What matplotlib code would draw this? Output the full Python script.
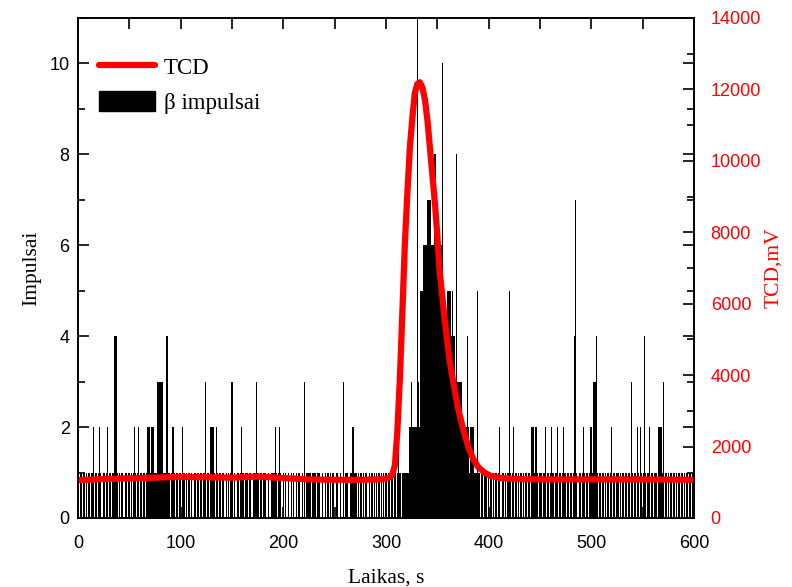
import numpy as np
import matplotlib
matplotlib.use("Agg")
import matplotlib.pyplot as plt
from matplotlib.lines import Line2D
from matplotlib.patches import Patch

# beta counts per second, t = 0..599 (rows of 30 s)
counts = [
    1, 0, 1, 1, 0, 1, 1, 0, 1, 0, 1, 1, 0, 1, 1, 2, 0, 1, 1, 0, 1, 2, 1, 0, 0, 1, 1, 0, 1, 2,
    0, 1, 1, 0, 1, 1, 4, 4, 1, 0, 1, 0, 1, 1, 0, 0, 1, 1, 0, 1, 1, 0, 1, 0, 1, 2, 1, 0, 1, 2,
    0, 1, 1, 0, 1, 1, 0, 1, 2, 2, 2, 1, 2, 2, 2, 1, 1, 3, 3, 3, 3, 3, 3, 1, 1, 1, 4, 4, 1, 1,
    0, 1, 2, 2, 1, 0, 1, 1, 0, 1, 1, 0, 2, 1, 1, 0, 1, 0, 1, 1, 0, 1, 0, 1, 1, 0, 1, 1, 0, 1,
    1, 0, 1, 1, 3, 0, 1, 1, 0, 2, 2, 2, 2, 1, 0, 2, 1, 0, 1, 1, 0, 1, 1, 0, 0, 1, 0, 1, 0, 1,
    3, 0, 1, 0, 0, 1, 1, 0, 1, 2, 1, 1, 0, 1, 1, 1, 0, 1, 1, 0, 0, 1, 1, 1, 3, 1, 1, 0, 1, 1,
    0, 1, 1, 1, 0, 0, 1, 0, 1, 1, 1, 1, 2, 1, 0, 1, 2, 1, 0, 0, 1, 0, 1, 0, 0, 1, 0, 0, 1, 0,
    1, 0, 0, 1, 0, 1, 1, 0, 0, 1, 0, 3, 0, 1, 1, 1, 1, 0, 1, 1, 1, 1, 0, 1, 1, 1, 0, 0, 1, 0,
    0, 1, 0, 1, 1, 0, 1, 0, 1, 1, 0, 0, 1, 1, 0, 0, 1, 0, 0, 3, 0, 1, 1, 0, 0, 1, 1, 2, 2, 1,
    1, 1, 0, 1, 0, 1, 1, 0, 1, 0, 1, 1, 0, 0, 1, 0, 1, 1, 0, 1, 0, 1, 0, 1, 1, 0, 1, 0, 1, 0,
    1, 0, 1, 1, 0, 1, 1, 0, 1, 1, 0, 1, 3, 1, 1, 0, 1, 1, 1, 1, 1, 1, 1, 2, 2, 3, 2, 2, 2, 2,
    2, 11, 3, 2, 5, 5, 5, 6, 6, 6, 7, 7, 7, 7, 6, 6, 6, 8, 8, 6, 6, 6, 6, 6, 6, 10, 5, 4, 4, 4,
    5, 5, 5, 5, 4, 5, 4, 4, 3, 8, 3, 3, 3, 3, 3, 2, 2, 2, 2, 4, 2, 1, 2, 2, 2, 2, 1, 1, 1, 5,
    1, 1, 0, 1, 1, 0, 1, 1, 1, 0, 1, 0, 1, 1, 0, 1, 0, 1, 1, 0, 1, 2, 0, 1, 1, 0, 1, 0, 1, 1,
    5, 1, 0, 1, 2, 0, 1, 1, 0, 1, 0, 1, 1, 0, 1, 0, 1, 1, 0, 1, 1, 0, 2, 2, 2, 1, 2, 2, 1, 0,
    1, 1, 0, 1, 1, 2, 0, 1, 1, 0, 1, 2, 1, 1, 0, 1, 1, 2, 0, 1, 1, 0, 1, 2, 1, 1, 0, 1, 1, 0,
    1, 1, 0, 1, 4, 7, 1, 0, 1, 1, 0, 1, 2, 1, 0, 1, 1, 0, 1, 2, 2, 1, 3, 3, 3, 4, 1, 0, 1, 1,
    0, 1, 1, 0, 1, 0, 1, 1, 0, 1, 2, 0, 1, 1, 0, 1, 1, 0, 1, 0, 1, 1, 0, 1, 1, 0, 1, 1, 0, 3,
    1, 0, 1, 1, 0, 2, 1, 0, 2, 1, 0, 1, 4, 1, 0, 1, 1, 2, 0, 1, 1, 0, 1, 1, 0, 2, 2, 2, 2, 1,
    3, 0, 1, 1, 0, 1, 0, 1, 1, 0, 1, 1, 0, 1, 0, 1, 1, 0, 1, 1, 0, 1, 0, 1, 1, 0, 1, 1, 0, 1,
]
seconds = np.arange(len(counts))

# TCD signal, mV
tcd_time = [0, 25, 50, 75, 100, 125, 150, 175, 200, 225, 250, 275, 295, 302, 306,
            308.7, 311, 313.5, 316, 318.4, 321, 323.3, 326, 328.1, 330.5, 333, 335.5,
            338, 340.5, 343, 345.5, 348, 350, 352, 354.5, 357, 359.5, 362, 365, 370,
            375, 380, 385, 390, 396, 402, 412, 425, 450, 500, 550, 600]
tcd_mv = [1060, 1090, 1110, 1130, 1150, 1140, 1130, 1160, 1120, 1080, 1070, 1070, 1080,
          1110, 1200, 1480, 2400, 3900, 5800, 7700, 9200, 10400, 11300, 11900, 12150,
          12200, 12050, 11700, 11100, 10300, 9500, 8700, 7900, 7000, 6300, 5600, 5000,
          4400, 3900, 3100, 2500, 2000, 1650, 1420, 1270, 1180, 1120, 1090, 1080, 1080,
          1080, 1070]

fig = plt.figure(figsize=(7.92, 5.87), dpi=100)
ax = fig.add_axes([78 / 792, 1 - 518 / 587, 616 / 792, 500 / 587])
ax2 = ax.twinx()

ax.bar(seconds, counts, width=1.0, color="black", linewidth=0, antialiased=False)
ax2.plot(tcd_time, tcd_mv, color="red", lw=4.5, solid_capstyle="round")

ax.set_xlim(0, 600)
ax.set_ylim(0, 11)
ax2.set_ylim(0, 14000)

ax.set_xticks(range(0, 601, 100))
ax.set_xticks(range(0, 601, 50), minor=True)
ax.set_yticks(range(0, 11, 2))
ax.set_yticks(range(0, 12, 1), minor=True)
ax2.set_yticks(range(0, 14001, 2000))
ax2.set_yticks(range(0, 14001, 1000), minor=True)

sans = "Liberation Sans"
serif = "Liberation Serif"
ax.tick_params(which="both", direction="in", top=True, right=True, width=1.2,
               labelsize=13)
ax.tick_params(which="major", length=8)
ax.tick_params(which="minor", length=5)
ax.tick_params(axis="x", which="minor", length=8)
ax.tick_params(axis="x", which="major", pad=12)
ax.tick_params(axis="y", which="major", pad=6)
ax2.tick_params(which="both", direction="in", width=1.2, labelsize=13,
                labelcolor="red")
ax2.tick_params(which="major", length=8, pad=12)
ax2.tick_params(which="minor", length=5)
for lab in ax.get_xticklabels() + ax.get_yticklabels() + ax2.get_yticklabels():
    lab.set_fontfamily(sans)
for a in (ax, ax2):
    for s in a.spines.values():
        s.set_linewidth(1.2)

ax.set_xlabel("Laikas, s", fontfamily=serif, fontsize=15.5, labelpad=12)
ax.set_ylabel("Impulsai", fontfamily=serif, fontsize=15.5, labelpad=6)
ax2.set_ylabel("TCD,mV", fontfamily=serif, fontsize=15.5, color="red", labelpad=2)

handles = [Line2D([], [], color="red", lw=4.5, solid_capstyle="round"),
           Patch(facecolor="black", edgecolor="black")]
ax2.legend(handles, ["TCD", "\u03b2 impulsai"], loc="upper left",
           bbox_to_anchor=(0.0, 0.965), frameon=False,
           prop={"family": serif, "size": 16.5}, handlelength=2.45,
           handleheight=1.0, labelspacing=0.5, handletextpad=0.4)

fig.savefig("out.png", dpi=100)
